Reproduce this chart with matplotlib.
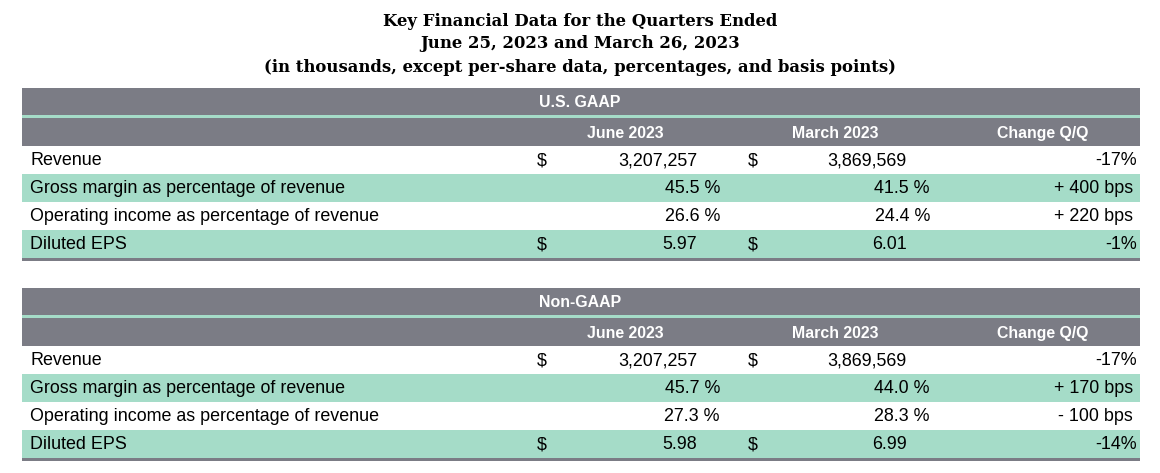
import matplotlib
matplotlib.use("Agg")
import matplotlib.pyplot as plt
from matplotlib.patches import Rectangle

title_lines = ["Key Financial Data for the Quarters Ended",
               "June 25, 2023 and March 26, 2023",
               "(in thousands, except per-share data, percentages, and basis points)"]
sections = ["U.S. GAAP", "Non-GAAP"]
col_heads = ["June 2023", "March 2023", "Change Q/Q"]
row_labels = ["Revenue", "Gross margin as percentage of revenue",
              "Operating income as percentage of revenue", "Diluted EPS"]
dollar_rows = [True, False, False, True]
june_vals = [["3,207,257", "45.5 %", "26.6 %", "5.97"],
             ["3,207,257", "45.7 %", "27.3 %", "5.98"]]
march_vals = [["3,869,569", "41.5 %", "24.4 %", "6.01"],
              ["3,869,569", "44.0 %", "28.3 %", "6.99"]]
changes = [["-17%", "+ 400 bps", "+ 220 bps", "-1%"],
           ["-17%", "+ 170 bps", "- 100 bps", "-14%"]]

GRAY = "#7b7c85"
TEAL = "#a5dcc8"
LINE = "#a5dcc8"

fig = plt.figure(figsize=(11.6, 4.73), dpi=100)
ax = fig.add_axes([0, 0, 1, 1])
ax.set_xlim(0, 1160)
ax.set_ylim(473, 0)
ax.axis("off")

for i, t in enumerate(title_lines):
    ax.text(580, 21 + i * 23, t, ha="center", va="center", fontsize=11.9,
            fontweight="bold", family="DejaVu Serif")

X0, X1 = 22, 1140
sf = dict(fontsize=12.9, family="Liberation Sans", va="center")
for s, top in enumerate([88, 288]):
    ax.add_patch(Rectangle((X0, top), X1 - X0, 27, color=GRAY, lw=0))
    ax.add_patch(Rectangle((X0, top + 27), X1 - X0, 3, color=LINE, lw=0))
    ax.add_patch(Rectangle((X0, top + 30), X1 - X0, 28, color=GRAY, lw=0))
    ax.text(580, top + 14, sections[s], ha="center", color="white",
            fontweight="bold", fontsize=11.4, family="Liberation Sans", va="center")
    for cx, h in zip([625, 835, 1043], col_heads):
        ax.text(cx, top + 45, h, ha="center", color="white", fontweight="bold",
                fontsize=11.4, family="Liberation Sans", va="center")
    for r in range(4):
        y0 = top + 58 + r * 28
        if r % 2 == 1:
            ax.add_patch(Rectangle((X0, y0), X1 - X0, 28, color=TEAL, lw=0))
        yc = y0 + 14.5
        ax.text(30, yc, row_labels[r], ha="left", **sf)
        if dollar_rows[r]:
            ax.text(537, yc, "$", ha="left", **sf)
            ax.text(748, yc, "$", ha="left", **sf)
        jv, mv = june_vals[s][r], march_vals[s][r]
        ax.text(720 if "%" in jv else 697, yc, jv, ha="right", **sf)
        ax.text(930 if "%" in mv else 907, yc, mv, ha="right", **sf)
        cv = changes[s][r]
        ax.text(1133 if "bps" in cv else 1137, yc, cv, ha="right", **sf)
    ax.add_patch(Rectangle((X0, top + 170), X1 - X0, 3, color=GRAY, lw=0))

fig.savefig("out.png", dpi=100)
